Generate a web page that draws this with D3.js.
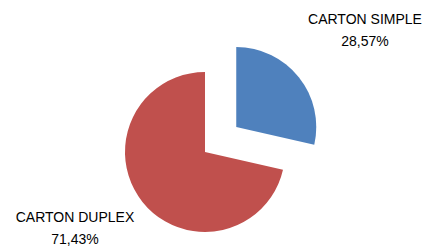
<!DOCTYPE html>
<html>
<head>
<meta charset="utf-8">
<script src="https://cdn.jsdelivr.net/npm/d3@7"></script>
<style>
  body { margin: 0; background: #fff; }
  text { font-family: "Liberation Sans", Arial, sans-serif; font-size: 14px; fill: #000; }
</style>
</head>
<body>
<svg width="429" height="247"></svg>
<script>
// data
var categories = ["CARTON SIMPLE", "CARTON DUPLEX"];
var percents = [28.57, 71.43];
var colors = ["#4F81BD", "#C0504D"];

var svg = d3.select("svg");
var cx = 205, cy = 152, radius = 80, explode = 40;

var pie = d3.pie().sort(null).value(function(d) { return d; });
var arcs = pie(percents);
var arc = d3.arc().innerRadius(0).outerRadius(radius);

var g = svg.append("g").attr("transform", "translate(" + cx + "," + cy + ")");

g.selectAll("path")
  .data(arcs)
  .enter().append("path")
    .attr("d", arc)
    .attr("fill", function(d, i) { return colors[i]; })
    .attr("transform", function(d, i) {
      // only the first slice is pulled out
      if (i !== 0) return null;
      var mid = (d.startAngle + d.endAngle) / 2;
      return "translate(" + (Math.sin(mid) * explode) + "," + (-Math.cos(mid) * explode) + ")";
    });

// label placement (centre x, first baseline y)
var labelPos = [[365, 24], [75, 222]];
var fmt = function(v) { return v.toFixed(2).replace(".", ",") + "%"; };

var labels = svg.selectAll("text.lbl")
  .data(categories)
  .enter().append("text")
    .attr("class", "lbl")
    .attr("text-anchor", "middle")
    .attr("x", function(d, i) { return labelPos[i][0]; })
    .attr("y", function(d, i) { return labelPos[i][1]; });

labels.append("tspan")
  .attr("x", function(d, i) { return labelPos[i][0]; })
  .text(function(d) { return d; });
labels.append("tspan")
  .attr("x", function(d, i) { return labelPos[i][0]; })
  .attr("dy", 22)
  .text(function(d, i) { return fmt(percents[i]); });
</script>
</body>
</html>
